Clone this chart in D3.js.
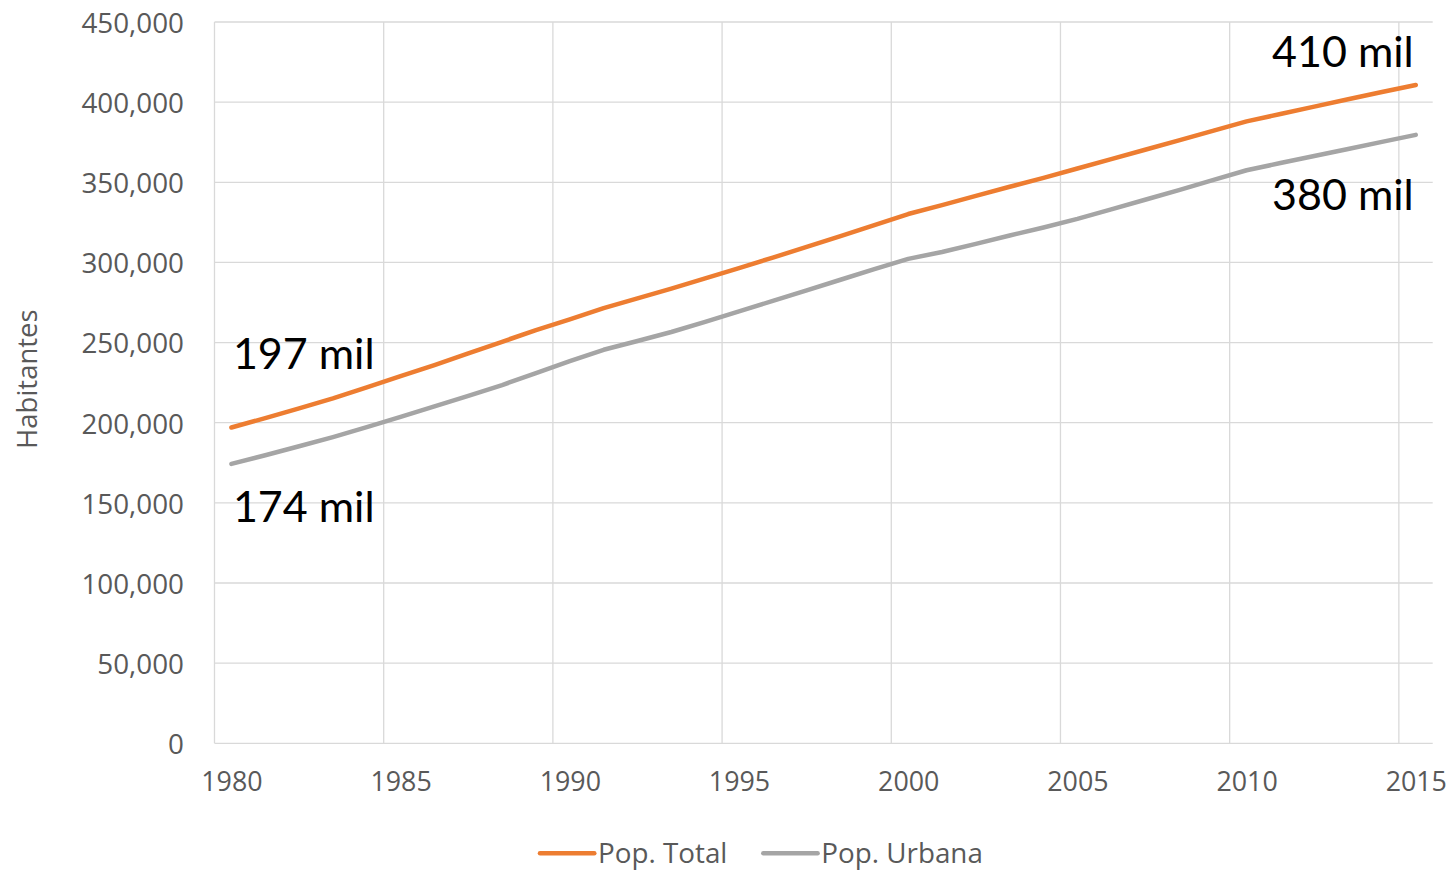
<!DOCTYPE html>
<html>
<head>
<meta charset="utf-8">
<script src="https://cdn.jsdelivr.net/npm/d3@7"></script>
<style>
  html, body { margin: 0; padding: 0; background: #fff; }
  #chart { width: 1454px; height: 870px; }
  text { font-family: 'Open Sans', 'Noto Sans', sans-serif; }
</style>
</head>
<body>
<div id="chart"></div>
<script>
// datos (habitantes por año)
const years = [1980, 1981, 1982, 1983, 1984, 1985, 1986, 1987, 1988, 1989,
    1990, 1991, 1992, 1993, 1994, 1995, 1996, 1997, 1998, 1999,
    2000, 2001, 2002, 2003, 2004, 2005, 2006, 2007, 2008, 2009,
    2010, 2011, 2012, 2013, 2014, 2015];

const popTotal = [197000, 202900, 209000, 215200, 222000, 229000, 236000, 243200, 250500, 257800,
    264500, 271500, 277600, 283700, 290000, 296500, 303000, 309700, 316400, 323300,
    330200, 335800, 341500, 347200, 352800, 358600, 364500, 370300, 376200, 382100,
    388000, 392600, 397200, 401800, 406300, 410700];

const popUrbana = [174300, 179700, 185300, 191000, 197200, 203700, 210200, 216800, 223500, 231000,
    238500, 245500, 251000, 256600, 262900, 269500, 276000, 282600, 289200, 295800,
    302200, 306500, 311600, 316800, 321800, 327200, 333100, 339100, 345100, 351300,
    357500, 362000, 366400, 370800, 375200, 379600];

const yTicks = [0, 50000, 100000, 150000, 200000, 250000, 300000, 350000, 400000, 450000];
const xLabelYears = [1980, 1985, 1990, 1995, 2000, 2005, 2010, 2015];

const seriesNames = ['Pop. Total', 'Pop. Urbana'];
const seriesColors = ['#ED7D31', '#A5A5A5'];

// etiquetas de los extremos
const labelTexts = ['197 mil', '174 mil', '410 mil', '380 mil'];
const labelYears = [1980, 1980, 2015, 2015];
const labelValues = [197000, 174300, 410700, 379600];

class PopulationChart {
    constructor() {
        this.width = 1454;
        this.height = 870;
        this.margin = { top: 22, right: 21.3, bottom: 126.7, left: 214.5 };
        this.innerW = this.width - this.margin.left - this.margin.right;
        this.innerH = this.height - this.margin.top - this.margin.bottom;
        this.svg = d3.select('#chart').append('svg')
            .attr('width', this.width)
            .attr('height', this.height);
        this.g = this.svg.append('g')
            .attr('transform', `translate(${this.margin.left},${this.margin.top})`);

        // eje de categorías: cada año ocupa una franja
        this.x = d3.scaleLinear()
            .domain([years[0] - 0.5, years[years.length - 1] + 0.5])
            .range([0, this.innerW]);
        this.y = d3.scaleLinear()
            .domain([0, 450000])
            .range([this.innerH, 0]);

        this.drawGrid();
        this.drawAxes();
        this.drawLines();
        this.drawLabels();
        this.drawLegend();
    }

    drawGrid() {
        const gridColor = '#D9D9D9';
        // líneas verticales entre categorías, cada 5 años
        const vLines = d3.range(years[0] - 0.5, years[years.length - 1], 5);
        this.g.append('g').selectAll('line')
            .data(vLines)
            .join('line')
            .attr('x1', d => this.x(d))
            .attr('x2', d => this.x(d))
            .attr('y1', 0)
            .attr('y2', this.innerH)
            .style('stroke', gridColor)
            .style('stroke-width', 1.3);

        this.g.append('g').selectAll('line')
            .data(yTicks)
            .join('line')
            .attr('x1', 0)
            .attr('x2', this.innerW)
            .attr('y1', d => this.y(d))
            .attr('y2', d => this.y(d))
            .style('stroke', gridColor)
            .style('stroke-width', 1.3);
    }

    drawAxes() {
        const yAxis = d3.axisLeft(this.y)
            .tickValues(yTicks)
            .tickFormat(d3.format(','))
            .tickSize(0)
            .tickPadding(30.5);
        const ya = this.g.append('g').call(yAxis);
        ya.select('.domain').remove();
        ya.selectAll('text')
            .attr('dy', '0.37em')
            .style('font-size', '27.8px')
            .style('fill', '#595959');

        const xAxis = d3.axisBottom(this.x)
            .tickValues(xLabelYears)
            .tickFormat(d3.format('d'))
            .tickSize(0)
            .tickPadding(29);
        const xa = this.g.append('g')
            .attr('transform', `translate(0,${this.innerH})`)
            .call(xAxis);
        xa.select('.domain').remove();
        xa.selectAll('text')
            .style('font-size', '26.8px')
            .style('fill', '#595959');

        // título del eje Y
        this.svg.append('text')
            .attr('transform', `translate(36.5,${this.margin.top + this.innerH / 2 - 3.5}) rotate(-90)`)
            .attr('text-anchor', 'middle')
            .style('font-size', '27.5px')
            .style('fill', '#595959')
            .text('Habitantes');
    }

    drawLines() {
        const line = d3.line()
            .x((d, i) => this.x(years[i]))
            .y(d => this.y(d));

        [popTotal, popUrbana].forEach((values, i) => {
            this.g.append('path')
                .datum(values)
                .attr('d', line)
                .style('fill', 'none')
                .style('stroke', seriesColors[i])
                .style('stroke-width', 4.5)
                .style('stroke-linecap', 'round')
                .style('stroke-linejoin', 'round');
        });
    }

    drawLabels() {
        // desplazamiento vertical de cada etiqueta respecto a su punto
        const offsets = [-59, 57.7, -18.3, 75.5];
        const labels = labelTexts.map((t, i) => ({ text: t, year: labelYears[i], value: labelValues[i], dy: offsets[i] }));
        this.g.append('g').selectAll('text')
            .data(labels)
            .join('text')
            .attr('x', d => d.year === 1980 ? this.x(d.year) + 1.5 : this.x(d.year) - 2)
            .attr('y', d => this.y(d.value) + d.dy)
            .attr('text-anchor', d => d.year === 1980 ? 'start' : 'end')
            .style('font-family', "Lato, 'Open Sans', sans-serif")
            .style('font-size', '43px')
            .style('fill', '#000')
            .text(d => d.text);
    }

    drawLegend() {
        const legend = this.svg.append('g')
            .attr('transform', 'translate(540,853.3)');
        const offsets = [0, 223.3];
        const items = legend.selectAll('g')
            .data(seriesNames)
            .join('g')
            .attr('transform', (d, i) => `translate(${offsets[i]},0)`);
        items.append('line')
            .attr('x1', 0)
            .attr('x2', 54.3)
            .style('stroke', (d, i) => seriesColors[i])
            .style('stroke-width', 4.5)
            .style('stroke-linecap', 'round');
        items.append('text')
            .attr('x', 58)
            .attr('y', 10)
            .style('font-size', '27.8px')
            .style('fill', '#595959')
            .text(d => d);
    }
}

document.addEventListener('DOMContentLoaded', () => {
    new PopulationChart();
});
</script>
</body>
</html>
